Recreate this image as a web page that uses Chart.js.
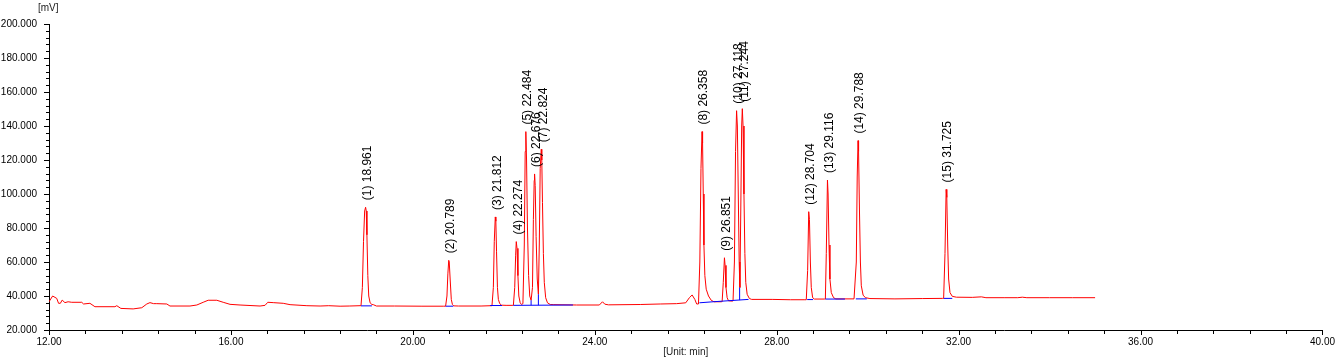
<!DOCTYPE html>
<html>
<head>
<meta charset="utf-8">
<title>Chromatogram</title>
<script src="https://cdn.jsdelivr.net/npm/chart.js@4/dist/chart.umd.min.js"></script>
<style>
    body { margin: 0; background: #fff; }
    #wrap { width: 1341px; height: 359px; }
</style>
</head>
<body>
<div id="wrap"><canvas id="chart" width="1341" height="359"></canvas></div>
<script>
// Signal trace [min] / [mV]
const traceTimes = [
    12.00, 12.08, 12.17, 12.21, 12.25, 12.29, 12.35, 12.42, 12.50, 12.72, 12.76, 12.90, 13.01, 13.45, 13.49, 13.58,
    13.85, 14.04, 14.15, 14.22, 14.30, 14.37, 14.59, 14.66, 15.10, 15.25, 15.39, 15.50, 15.69, 15.83, 15.98, 16.20,
    16.64, 16.75, 16.81, 16.93, 17.15, 17.30, 17.67, 17.96, 18.15, 18.40, 18.60, 18.84,
    18.86, 18.89, 18.915, 18.94, 18.961, 18.975, 18.99, 19.01, 19.03, 19.06, 19.10, 19.13, 19.20,
    19.60, 20.20, 20.68,
    20.72, 20.75, 20.77, 20.789, 20.80, 20.82, 20.845, 20.87, 20.90, 21.00, 21.50, 21.72,
    21.74, 21.77, 21.79, 21.812, 21.825, 21.84, 21.86, 21.88, 21.91, 21.95, 22.05, 22.20,
    22.21, 22.24, 22.26, 22.274, 22.29, 22.31, 22.33, 22.36, 22.39,
    22.42, 22.45, 22.47, 22.484, 22.50, 22.52, 22.545, 22.57, 22.60,
    22.63, 22.65, 22.668, 22.676, 22.69, 22.71, 22.735, 22.76,
    22.78, 22.80, 22.824, 22.835, 22.85, 22.87, 22.89, 22.92, 22.96, 23.02, 23.10, 23.60,
    24.10, 24.17, 24.22, 24.30, 25.00, 25.44, 25.80, 26.00, 26.08, 26.14, 26.20, 26.24,
    26.28, 26.31, 26.335, 26.358, 26.37, 26.385, 26.40, 26.42, 26.45, 26.50, 26.56, 26.62, 26.78,
    26.80, 26.825, 26.851, 26.865, 26.885, 26.91, 26.94, 27.02,
    27.04, 27.07, 27.095, 27.118, 27.135, 27.155, 27.175, 27.19,
    27.21, 27.23, 27.244, 27.26, 27.28, 27.30, 27.32, 27.35, 27.40, 27.45, 27.90, 28.30, 28.62,
    28.65, 28.68, 28.704, 28.72, 28.74, 28.76, 28.79, 28.83, 29.05,
    29.07, 29.09, 29.116, 29.13, 29.15, 29.17, 29.20, 29.25, 29.30, 29.70,
    29.72, 29.75, 29.77, 29.788, 29.80, 29.82, 29.84, 29.86, 29.90, 29.95, 30.05, 30.60, 31.20, 31.65,
    31.67, 31.70, 31.725, 31.74, 31.76, 31.78, 31.81, 31.86, 31.95, 32.30, 32.50, 32.60, 33.00, 33.30,
    33.40, 33.50, 34.00, 34.50, 35.00
];
const traceValues = [
    36.6, 40.0, 38.6, 35.7, 35.7, 37.6, 36.1, 36.6, 36.3, 36.3, 35.3, 35.7, 33.7, 33.7, 34.3, 32.7,
    32.4, 33.1, 35.3, 36.1, 35.5, 35.5, 35.3, 34.1, 34.1, 34.7, 36.3, 37.5, 37.5, 36.3, 35.1, 34.7,
    34.1, 34.5, 36.3, 36.1, 35.7, 34.9, 34.3, 34.1, 34.3, 34.0, 34.1, 34.3,
    34.3, 45.0, 72.0, 90.0, 92.2, 90.0, 76.0, 52.0, 40.0, 36.0, 35.0, 34.9, 34.1,
    34.1, 34.0, 34.0,
    34.0, 40.0, 53.0, 61.0, 60.0, 50.0, 38.0, 35.0, 34.2, 34.1, 34.1, 34.3,
    34.4, 45.0, 72.0, 86.5, 84.0, 66.0, 45.0, 38.0, 35.5, 34.6, 34.5, 34.5,
    34.5, 45.0, 64.0, 72.0, 68.0, 52.0, 40.0, 36.0, 35.0,
    35.5, 70.0, 125.0, 136.7, 120.0, 80.0, 52.0, 40.0, 37.5,
    45.0, 85.0, 108.0, 111.8, 105.0, 75.0, 50.0, 41.0,
    70.0, 115.0, 126.3, 120.0, 95.0, 65.0, 48.0, 39.0, 36.0, 35.0, 34.9, 34.7,
    34.7, 36.6, 35.2, 34.8, 35.0, 35.3, 35.5, 36.0, 39.0, 40.6, 38.0, 35.3,
    35.3, 60.0, 115.0, 136.7, 130.0, 100.0, 70.0, 52.0, 44.0, 40.0, 37.5, 36.6, 36.6,
    36.7, 48.0, 62.5, 58.0, 45.0, 39.0, 37.2, 37.0,
    37.1, 60.0, 125.0, 149.0, 140.0, 100.0, 60.0, 45.0,
    90.0, 140.0, 150.2, 140.0, 100.0, 65.0, 48.0, 41.0, 38.5, 38.0, 38.0, 37.8, 37.8,
    37.8, 55.0, 89.6, 85.0, 60.0, 45.0, 39.0, 38.2, 38.2,
    38.2, 65.0, 108.2, 100.0, 70.0, 50.0, 42.0, 39.0, 38.3, 38.3,
    38.3, 60.0, 110.0, 131.4, 125.0, 90.0, 60.0, 46.0, 40.5, 39.0, 38.5, 38.3, 38.5, 38.6,
    38.6, 65.0, 102.7, 98.0, 70.0, 50.0, 42.0, 39.8, 39.3, 39.2, 39.5, 39.0, 39.0, 39.0,
    39.3, 39.0, 39.0, 39.0, 39.0
];

// Peak labels
const peakTimes = [18.961, 20.789, 21.812, 22.274, 22.484, 22.676, 22.824, 26.358, 26.851, 27.118, 27.244, 28.704, 29.116, 29.788, 31.725];
const peakHeights = [92.2, 61.0, 86.5, 72.0, 136.7, 111.8, 126.3, 136.7, 62.5, 149.0, 150.2, 89.6, 108.2, 131.4, 102.7];
const peakNames = ['(1) 18.961', '(2) 20.789', '(3) 21.812', '(4) 22.274', '(5) 22.484', '(6) 22.676', '(7) 22.824',
    '(8) 26.358', '(9) 26.851', '(10) 27.118', '(11) 27.244', '(12) 28.704', '(13) 29.116', '(14) 29.788', '(15) 31.725'];

// Integration baselines (blue) and drop lines
const baseStart = [18.86, 20.72, 21.70, 22.21, 26.30, 26.60, 28.67, 29.07, 29.74, 31.67];
const baseEnd = [19.10, 20.89, 21.96, 23.52, 26.60, 27.38, 28.80, 29.50, 29.98, 31.86];
const baseStartLevel = [34.2, 34.0, 34.4, 34.5, 36.0, 36.6, 37.9, 38.2, 38.3, 38.6];
const baseEndLevel = [34.2, 34.0, 34.4, 34.7, 36.6, 38.0, 37.9, 38.2, 38.3, 38.6];
const dropTimes = [22.60, 22.76, 27.185];
const dropLow = [34.6, 34.6, 37.6];
const dropHigh = [37.5, 41.0, 45.0];

// Axis ticks
const yLabelStep = 20;
const yMinorStep = 4;
const xLabelStep = 4;
const xMinorStep = 0.8;

const FONT = "'Liberation Sans', Arial, sans-serif";

document.addEventListener('DOMContentLoaded', function() {
    drawChart();
});

function buildTrace() {
    return traceTimes.map((t, i) => ({ x: t, y: traceValues[i] }));
}

function buildBaselines() {
    const pts = [];
    baseStart.forEach((s, i) => {
        pts.push({ x: s, y: baseStartLevel[i] });
        pts.push({ x: baseEnd[i], y: baseEndLevel[i] });
        pts.push({ x: baseEnd[i], y: null });
    });
    dropTimes.forEach((t, i) => {
        pts.push({ x: t, y: dropLow[i] });
        pts.push({ x: t, y: dropHigh[i] });
        pts.push({ x: t, y: null });
    });
    return pts;
}

function isMultiple(v, step) {
    return Math.abs(v / step - Math.round(v / step)) < 1e-6;
}

// Tick marks: long at labelled values, short in between
const tickMarks = {
    id: 'tickMarks',
    afterDraw(chart) {
        const ctx = chart.ctx;
        const xs = chart.scales.x;
        const ys = chart.scales.y;
        ctx.save();
        ctx.strokeStyle = '#000';
        ctx.lineWidth = 1;
        ctx.beginPath();
        xs.ticks.forEach((tk, i) => {
            const px = Math.round(xs.getPixelForTick(i)) + 0.5;
            const len = isMultiple(tk.value, xLabelStep) ? 5 : 4;
            ctx.moveTo(px, xs.top);
            ctx.lineTo(px, xs.top + len);
        });
        ys.ticks.forEach((tk, i) => {
            const py = Math.round(ys.getPixelForTick(i)) + 0.5;
            const len = isMultiple(tk.value, yLabelStep) ? 5 : 3;
            ctx.moveTo(ys.right, py);
            ctx.lineTo(ys.right - len, py);
        });
        ctx.stroke();
        ctx.restore();
    }
};

// Rotated retention time labels above each peak, plus axis captions
const peakLabels = {
    id: 'peakLabels',
    afterDraw(chart) {
        const ctx = chart.ctx;
        const xs = chart.scales.x;
        const ys = chart.scales.y;
        ctx.save();
        ctx.fillStyle = '#000';
        ctx.font = '12px ' + FONT;
        ctx.textAlign = 'left';
        ctx.textBaseline = 'middle';
        peakTimes.forEach((t, i) => {
            const px = xs.getPixelForValue(t) + 2;
            const py = ys.getPixelForValue(peakHeights[i]) - 7;
            ctx.save();
            ctx.translate(px, py);
            ctx.rotate(-Math.PI / 2);
            ctx.fillText(peakNames[i], 0, 0);
            ctx.restore();
        });

        ctx.font = '10px ' + FONT;
        ctx.fillStyle = '#1a1a1a';
        ctx.textAlign = 'left';
        ctx.fillText('[mV]', 38, 8);
        ctx.textAlign = 'center';
        ctx.fillText('[Unit: min]', (chart.chartArea.left + chart.chartArea.right) / 2, 352);
        ctx.restore();
    }
};

function drawChart() {
    const ctx = document.getElementById('chart');
    new Chart(ctx, {
        type: 'scatter',
        data: {
            datasets: [
                {
                    label: 'baseline',
                    data: buildBaselines(),
                    showLine: true,
                    spanGaps: false,
                    borderColor: '#0000ff',
                    borderWidth: 1,
                    pointRadius: 0,
                    tension: 0
                },
                {
                    label: 'signal',
                    data: buildTrace(),
                    showLine: true,
                    borderColor: '#ff0000',
                    borderWidth: 1,
                    pointRadius: 0,
                    tension: 0
                }
            ]
        },
        options: {
            responsive: false,
            animation: false,
            devicePixelRatio: 1,
            layout: { padding: { left: 0, right: 18, top: 24, bottom: 0 } },
            plugins: {
                legend: { display: false },
                tooltip: { enabled: false }
            },
            scales: {
                x: {
                    type: 'linear',
                    min: 12,
                    max: 40,
                    afterFit: function(scale) { scale.height = 29; },
                    grid: { display: false, drawTicks: false },
                    border: { display: true, color: '#000', width: 1 },
                    ticks: {
                        stepSize: xMinorStep,
                        autoSkip: false,
                        maxRotation: 0,
                        padding: 6,
                        color: '#000',
                        font: { family: FONT, size: 10 },
                        callback: function(v) {
                            return isMultiple(v, xLabelStep) ? v.toFixed(2) : '';
                        }
                    }
                },
                y: {
                    min: 20,
                    max: 200,
                    afterFit: function(scale) { scale.width = 49; },
                    grid: { display: false, drawTicks: false },
                    border: { display: true, color: '#000', width: 1 },
                    ticks: {
                        stepSize: yMinorStep,
                        autoSkip: false,
                        padding: 12,
                        color: '#000',
                        font: { family: FONT, size: 10 },
                        callback: function(v) {
                            return isMultiple(v, yLabelStep) ? v.toFixed(3) : '';
                        }
                    }
                }
            }
        },
        plugins: [tickMarks, peakLabels]
    });
}
</script>
</body>
</html>
